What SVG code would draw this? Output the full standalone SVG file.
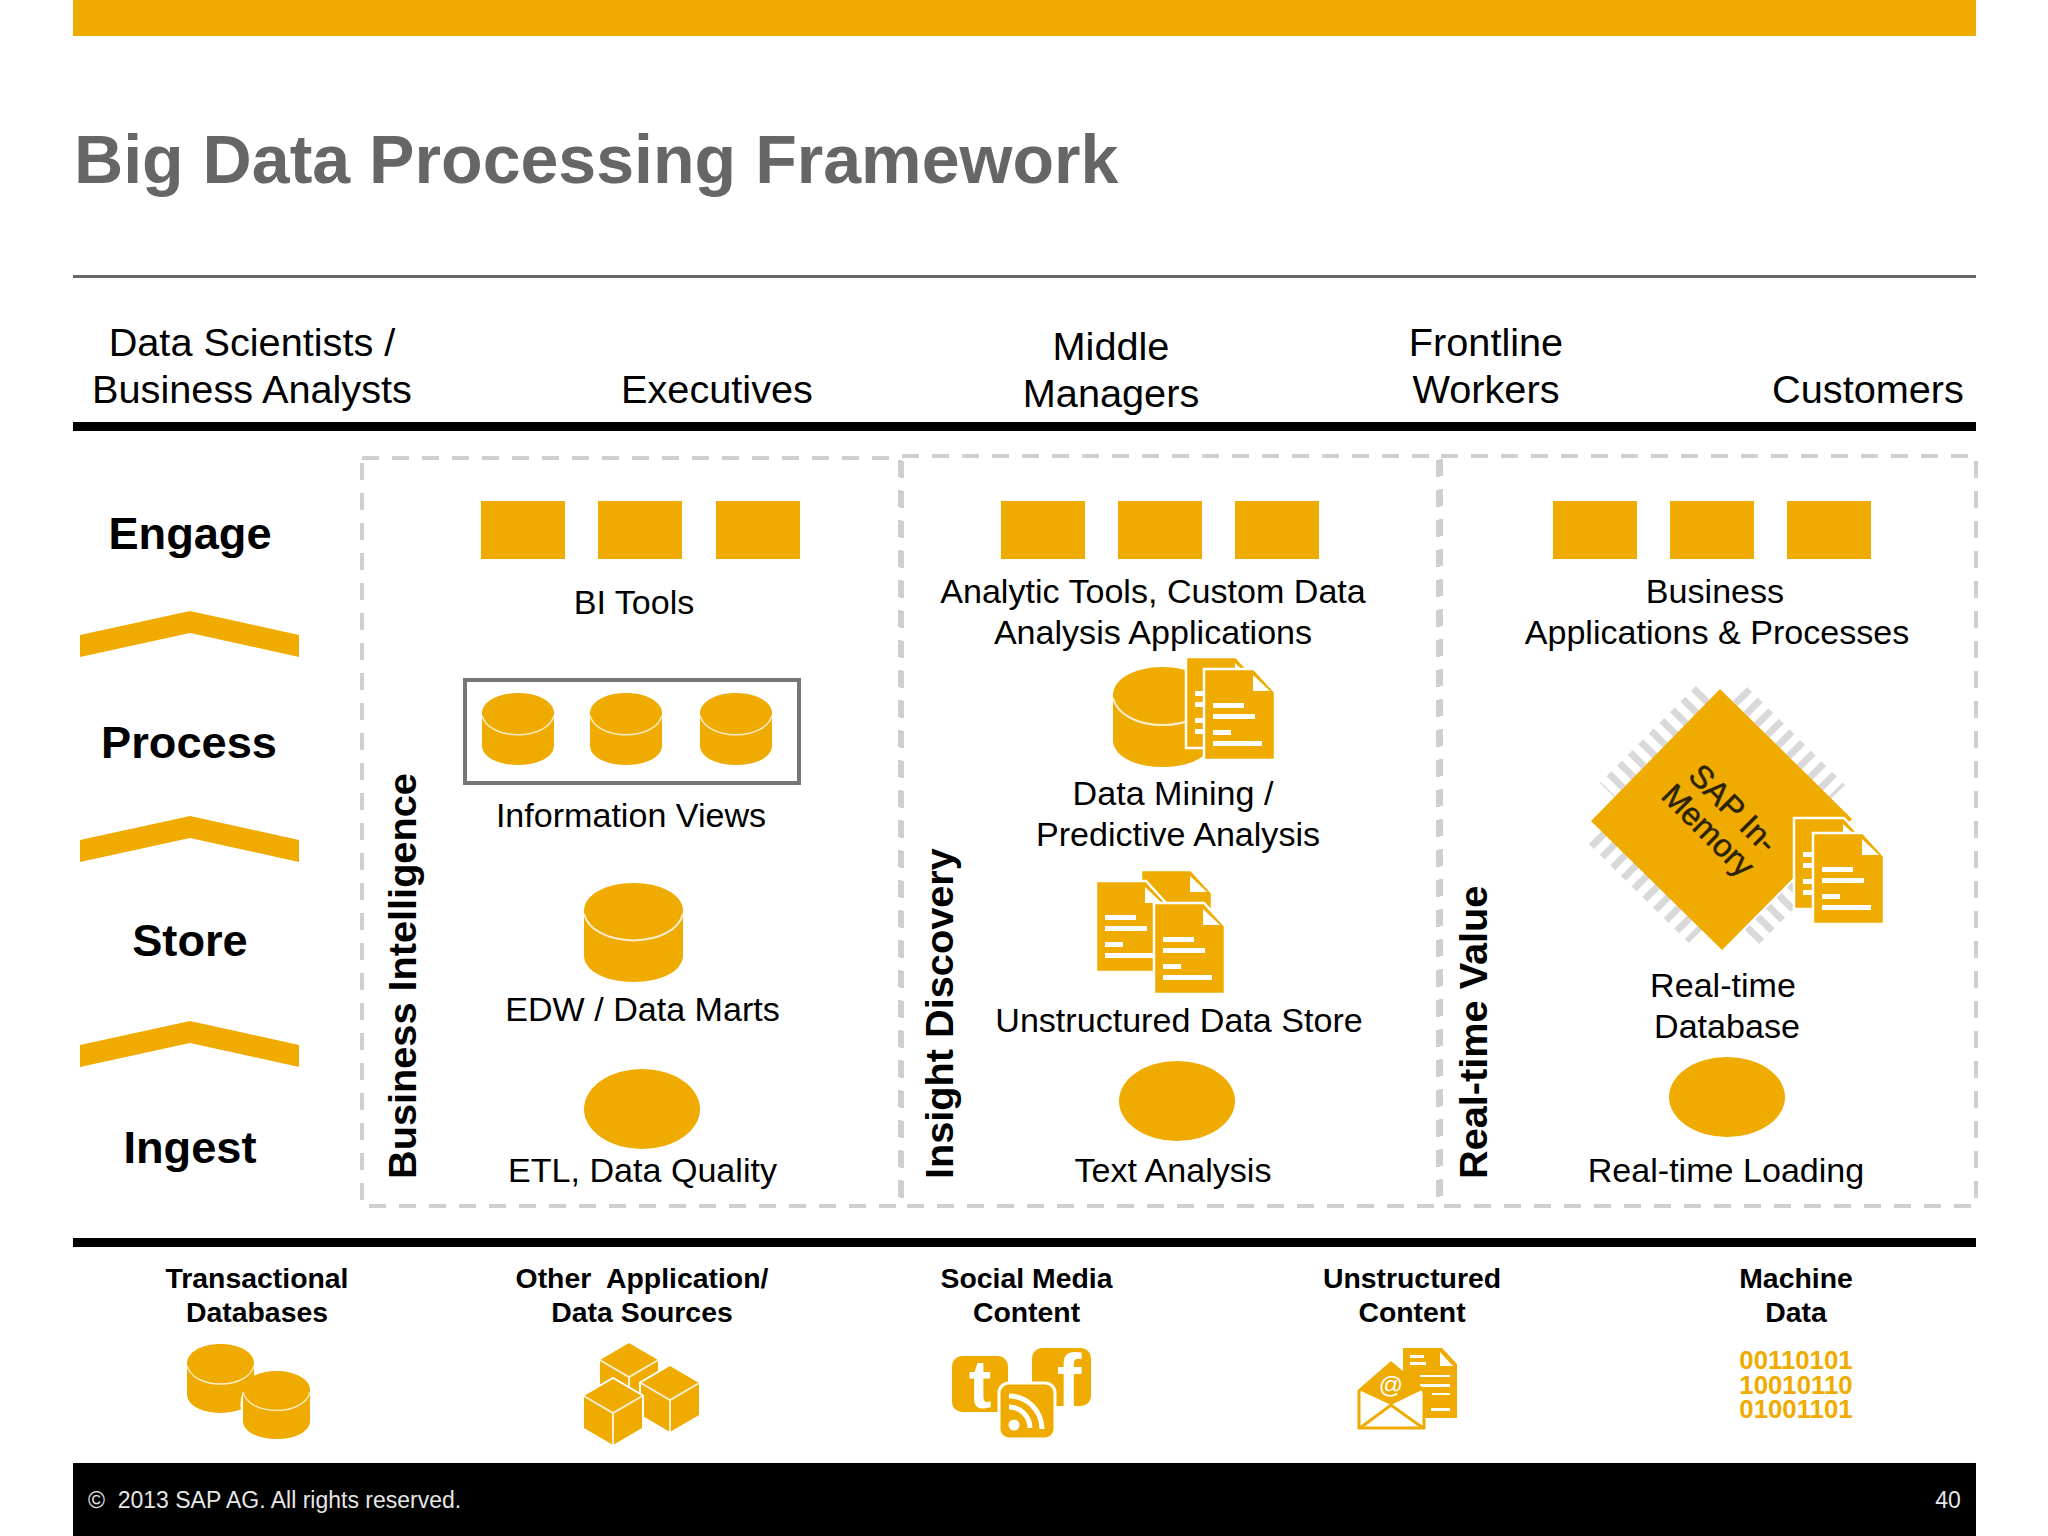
<svg xmlns="http://www.w3.org/2000/svg" xmlns:xlink="http://www.w3.org/1999/xlink" width="2048" height="1536" viewBox="0 0 2048 1536">
<style>
text{font-family:"Liberation Sans",Arial,sans-serif;fill:#000}
.m{text-anchor:middle}
.h{font-size:39.7px}
.l{font-size:34.1px}
.s{font-size:45.2px;font-weight:bold;text-anchor:middle}
.v{font-size:39.7px;font-weight:bold}
.b{font-size:28.4px;font-weight:bold;text-anchor:middle}
.bin{font-size:25.8px;font-weight:bold;text-anchor:middle;fill:#f0ab00}
.y{fill:#f0ab00}
.dash{fill:none;stroke:#cfcfcf;stroke-width:4;stroke-dasharray:17 13}
.tick{stroke:#d9d9d9;stroke-width:20;stroke-dasharray:7 8;fill:none}
.chiptext{font-size:32px;fill:#2a2200;stroke:#2a2200;stroke-width:.5;text-anchor:middle}
</style>
<defs>
<symbol id="cyl" viewBox="0 0 100 100" preserveAspectRatio="none" overflow="visible">
<path class="y" d="M0 28V73C0 89 22 100 50 100S100 89 100 73V28C100 12 78 0 50 0S0 12 0 28Z"/>
<path d="M0 31C4 47 24 58 50 58S96 47 100 31" fill="none" stroke="#fff" stroke-width="2" stroke-opacity=".8"/>
</symbol>
<g id="doc">
<path class="y" stroke="#fff" stroke-width="2.5" d="M0 0H50L71 23V91H0Z"/>
<path fill="#fff" d="M49 6V22H66Z"/>
<path fill="#fff" d="M9 34h31v5H9zM9 45h42v5H9zM9 61h18v5H9zM9 72h49v5H9z"/>
</g>
<g id="cube">
<path class="y" d="M0 17.500L30 0L60 17.500V50.500L30 68L0 50.500Z" stroke="#fff" stroke-width="2"/>
<path d="M0 17.500L30 35L60 17.500M30 35V68" fill="none" stroke="#fff" stroke-opacity=".8" stroke-width="2"/>
</g>
</defs>
<rect width="2048" height="1536" fill="#fff"/>
<g id="frame">
<rect class="y" x="73" y="0" width="1903" height="36"/>
<text x="74" y="183" font-size="68.1" font-weight="bold" style="fill:#666">Big Data Processing Framework</text>
<rect x="73" y="275" width="1903" height="3" fill="#666"/>
<rect x="73" y="422" width="1903" height="9" fill="#000"/>
<rect x="73" y="1238" width="1903" height="9" fill="#000"/>
<rect x="73" y="1463" width="1903" height="73" fill="#000"/>
<text x="88" y="1508" font-size="23" xml:space="preserve" style="fill:#e6e6e6">©  2013 SAP AG. All rights reserved.</text>
<text x="1948" y="1508" font-size="23" class="m" style="fill:#e6e6e6">40</text>
</g>
<g id="audiences">
<text class="h m" x="252" y="356">Data Scientists /</text><text class="h m" x="252" y="403">Business Analysts</text>
<text class="h m" x="717" y="403">Executives</text>
<text class="h m" x="1111" y="360">Middle</text><text class="h m" x="1111" y="407">Managers</text>
<text class="h m" x="1486" y="356">Frontline</text><text class="h m" x="1486" y="403">Workers</text>
<text class="h m" x="1868" y="403">Customers</text>
</g>
<g id="stages">
<text class="s" x="190" y="549">Engage</text>
<text class="s" x="189" y="758">Process</text>
<text class="s" x="190" y="956">Store</text>
<text class="s" x="190" y="1163">Ingest</text>
</g>
<g id="connectors">
<polygon class="y" points="80,635 190,611 299,635 299,657 190,633 80,657"/>
<polygon class="y" points="80,840 190,816 299,840 299,862 190,838 80,862"/>
<polygon class="y" points="80,1045 190,1021 299,1045 299,1067 190,1043 80,1067"/>
</g>
<g id="panel-bi">
<rect class="dash" x="362" y="458" width="538" height="748"/>
<text class="v" transform="translate(416 1179) rotate(-90)">Business Intelligence</text>
<rect class="y" x="481" y="501" width="84" height="58"/><rect class="y" x="598" y="501" width="84" height="58"/><rect class="y" x="716" y="501" width="84" height="58"/>
<text class="l m" x="634" y="614">BI Tools</text>
<rect x="465" y="680" width="334" height="103" fill="none" stroke="#777" stroke-width="4"/>
<use href="#cyl" x="482" y="693" width="72" height="72"/><use href="#cyl" x="590" y="693" width="72" height="72"/><use href="#cyl" x="700" y="693" width="72" height="72"/>
<text class="l m" x="631" y="827">Information Views</text>
<use href="#cyl" x="584" y="883" width="99" height="99"/>
<text class="l m" x="642.500" y="1021">EDW / Data Marts</text>
<ellipse class="y" cx="642" cy="1109" rx="58" ry="40"/>
<text class="l m" x="642.500" y="1182">ETL, Data Quality</text>
</g>
<g id="panel-insight">
<rect class="dash" x="902" y="456" width="536" height="750"/>
<text class="v" transform="translate(953 1179) rotate(-90)">Insight Discovery</text>
<rect class="y" x="1001" y="501" width="84" height="58"/><rect class="y" x="1118" y="501" width="84" height="58"/><rect class="y" x="1235" y="501" width="84" height="58"/>
<text class="l m" x="1153" y="602.500">Analytic Tools, Custom Data</text><text class="l m" x="1153" y="644">Analysis Applications</text>
<use href="#cyl" x="1113" y="667" width="99" height="100"/>
<use href="#doc" x="1186" y="657"/><use href="#doc" x="1204" y="669"/>
<text class="l m" x="1173" y="804.500">Data Mining /</text><text class="l m" x="1178" y="845.500">Predictive Analysis</text>
<use href="#doc" x="1141" y="870"/><use href="#doc" x="1096" y="881"/><use href="#doc" x="1154" y="903"/>
<text class="l m" x="1179" y="1032">Unstructured Data Store</text>
<ellipse class="y" cx="1177" cy="1101" rx="58" ry="40"/>
<text class="l m" x="1173" y="1182">Text Analysis</text>
</g>
<g id="panel-realtime">
<rect class="dash" x="1441" y="456" width="535" height="750"/>
<text class="v" transform="translate(1486.500 1179) rotate(-90)">Real-time Value</text>
<rect class="y" x="1553" y="501" width="84" height="58"/><rect class="y" x="1670" y="501" width="84" height="58"/><rect class="y" x="1787" y="501" width="84" height="58"/>
<text class="l m" x="1715" y="602.500">Business</text><text class="l m" x="1717" y="644">Applications &amp; Processes</text>
<g id="chip">
<path class="tick" d="M1703 693L1607 790M1740 694L1838 792M1596 837L1696 936M1752 937L1800 888"/>
<polygon class="y" points="1720,689 1852,819 1722,950 1591,821"/>
<text class="chiptext" transform="translate(1725.500 816) rotate(45)">SAP In-</text>
<text class="chiptext" transform="translate(1700.500 838) rotate(45)">Memory</text>
<use href="#doc" x="1794" y="818"/><use href="#doc" x="1813" y="833"/>
</g>
<text class="l m" x="1723" y="997">Real-time</text><text class="l m" x="1727" y="1038">Database</text>
<ellipse class="y" cx="1727" cy="1097" rx="58" ry="40"/>
<text class="l m" x="1726" y="1182">Real-time Loading</text>
</g>
<g id="source-transactional">
<text class="b" x="257" y="1288">Transactional</text><text class="b" x="257" y="1322">Databases</text>
<use href="#cyl" x="187" y="1344" width="67" height="69"/>
<ellipse cx="276.500" cy="1405" rx="36" ry="37" fill="#fff"/>
<use href="#cyl" x="243" y="1371" width="67" height="68"/>
</g>
<g id="source-other">
<text class="b" x="642" y="1288" xml:space="preserve">Other  Application/</text><text class="b" x="642" y="1322">Data Sources</text>
<use href="#cube" x="599" y="1342"/><use href="#cube" x="640" y="1365"/><use href="#cube" x="583" y="1378"/>
</g>
<g id="source-social">
<text class="b" x="1026.500" y="1288">Social Media</text><text class="b" x="1026.500" y="1322">Content</text>
<rect class="y" x="952" y="1356" width="56" height="56" rx="10"/>
<text x="980" y="1408" font-size="68" font-weight="bold" class="m" style="fill:#fff">t</text>
<rect class="y" x="1032" y="1348" width="59" height="58" rx="10"/>
<text x="1069" y="1406" font-size="74" font-weight="bold" class="m" style="fill:#fff">f</text>
<rect class="y" x="999" y="1383" width="56" height="56" rx="10" stroke="#fff" stroke-width="3"/>
<circle cx="1014" cy="1425" r="5.500" fill="#fff"/>
<path d="M1009 1407A21 21 0 0 1 1030 1428M1009 1396A33 33 0 0 1 1042 1429" fill="none" stroke="#fff" stroke-width="5"/>
</g>
<g id="source-unstructured">
<text class="b" x="1412" y="1288">Unstructured</text><text class="b" x="1412" y="1322">Content</text>
<path class="y" d="M1403 1348H1442L1457 1364V1418H1403Z"/>
<path fill="#fff" d="M1440 1352V1366H1453Z"/>
<path fill="#fff" d="M1410 1355h14v3h-14zM1410 1362h16v3h-16zM1420 1375h30v2h-30zM1420 1384h30v3h-30zM1432 1393h18v2h-18zM1431 1408h19v3h-19z"/>
<path d="M1359 1391L1391 1363L1424 1391V1428H1359Z" fill="#fff" stroke="#f0ab00" stroke-width="3"/>
<path class="y" d="M1359 1390L1391 1363L1424 1389L1391 1405Z"/>
<path d="M1360 1428L1391 1405L1423 1428" fill="none" stroke="#f0ab00" stroke-width="3"/>
<text x="1391" y="1393" font-size="24" class="m" style="fill:#fff">@</text>
</g>
<g id="source-machine">
<text class="b" x="1796" y="1288">Machine</text><text class="b" x="1796" y="1322">Data</text>
<text class="bin" x="1796" y="1369">00110101</text><text class="bin" x="1796" y="1394">10010110</text><text class="bin" x="1796" y="1418">01001101</text>
</g>
</svg>
